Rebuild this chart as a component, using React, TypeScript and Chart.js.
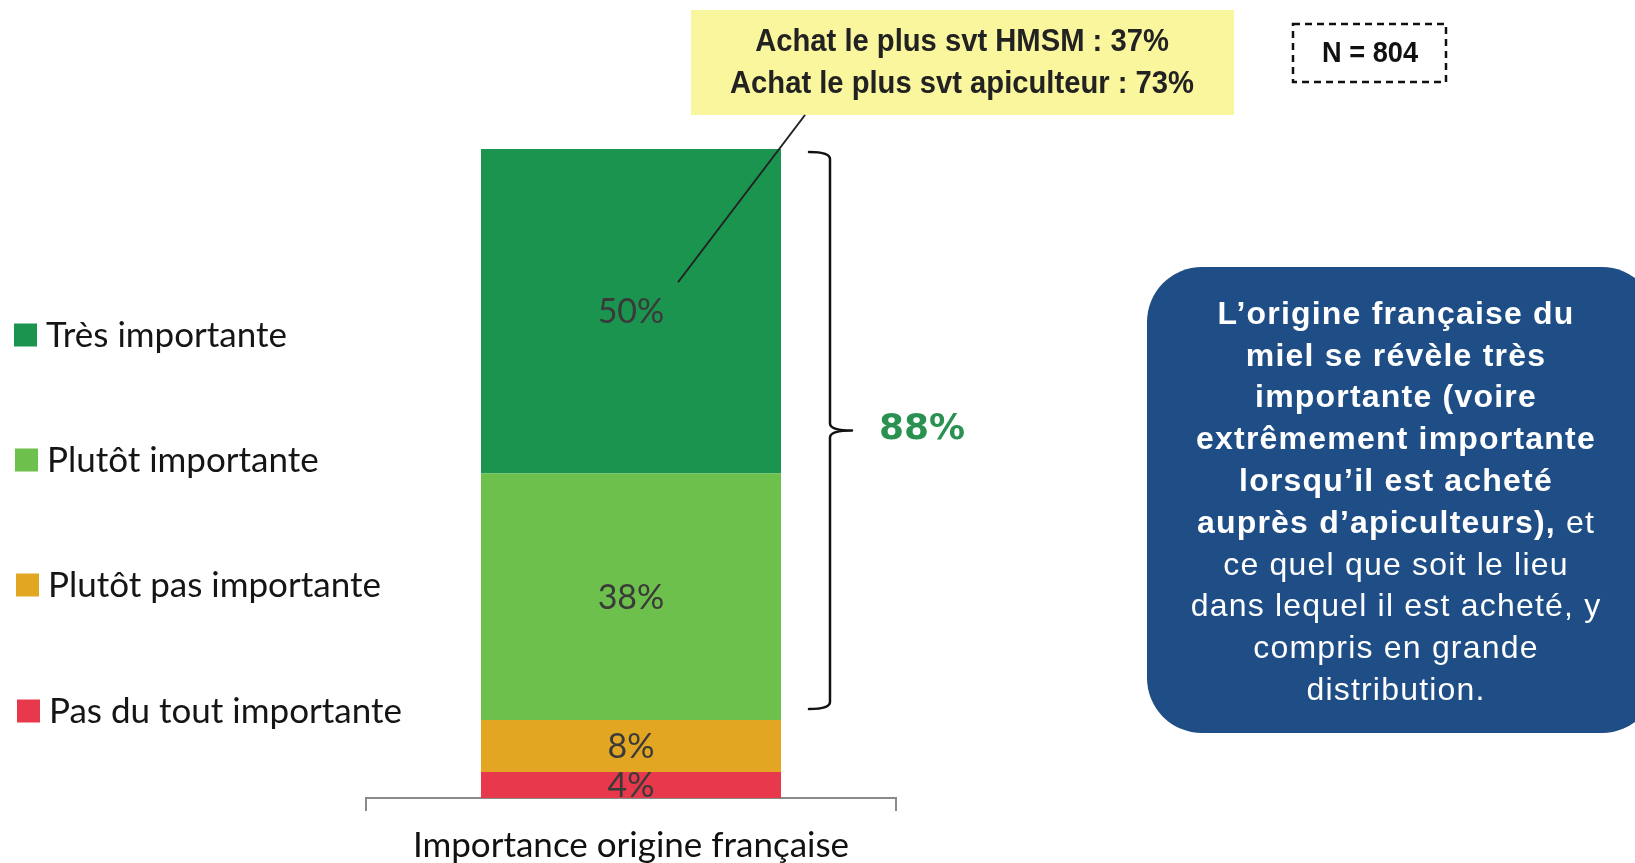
import React, { useEffect, useRef } from "react";
import { Chart, registerables } from "chart.js";

Chart.register(...registerables);

// ---- data ----
const categories = ["Importance origine française"];
const seriesNames = [
  "Pas du tout importante",
  "Plutôt pas importante",
  "Plutôt importante",
  "Très importante",
];
const pasDuToutImportante = [4];
const plutotPasImportante = [8];
const plutotImportante = [38];
const tresImportante = [50];
const seriesColors = ["#e8384c", "#e2a622", "#6cc04b", "#1b9450"];
const importantTotalLabel = "88%";
const sampleLabel = "N = 804";
const calloutLines = ["Achat le plus svt HMSM : 37%", "Achat le plus svt apiculteur : 73%"];
// [bold part, regular part]
const noteLines: [string, string][] = [
  ["L’origine française du", ""],
  ["miel se révèle très", ""],
  ["importante (voire", ""],
  ["extrêmement importante", ""],
  ["lorsqu’il est acheté", ""],
  ["auprès d’apiculteurs),", " et"],
  ["", "ce quel que soit le lieu"],
  ["", "dans lequel il est acheté, y"],
  ["", "compris en grande"],
  ["", "distribution."],
];

const LABEL_FONT = "Lato, 'Open Sans', sans-serif";
const SANS = "'Liberation Sans', Arial, sans-serif";

const overlayPlugin = {
  id: "overlay",
  afterDatasetsDraw(chart: any) {
    const ctx = chart.ctx as CanvasRenderingContext2D;
    ctx.save();
    ctx.fillStyle = "#3a3a3a";
    ctx.font = `34px ${LABEL_FONT}`;
    ctx.textAlign = "center";
    ctx.textBaseline = "middle";
    chart.data.datasets.forEach((ds: any, i: number) => {
      const meta = chart.getDatasetMeta(i);
      meta.data.forEach((bar: any, j: number) => {
        const p = bar.getProps(["x", "y", "base"], true);
        ctx.fillText(`${ds.data[j]}%`, p.x, (p.y + p.base) / 2 + 1);
      });
    });
    ctx.restore();
  },
  afterDraw(chart: any) {
    const ctx = chart.ctx as CanvasRenderingContext2D;
    const yScale = chart.scales.y;
    const topMeta = chart.getDatasetMeta(3);
    const topBar = topMeta.data[0].getProps(["x", "y", "base", "width"], true);
    const barRight = topBar.x + topBar.width / 2;

    // ---- legend (top to bottom: reverse of stacking order) ----
    ctx.save();
    const legendY = [335, 460, 585, 711];
    ctx.font = `35px ${LABEL_FONT}`;
    ctx.textBaseline = "middle";
    ctx.textAlign = "left";
    for (let k = 0; k < 4; k++) {
      const idx = 3 - k;
      const ds = chart.data.datasets[idx];
      ctx.fillStyle = ds.backgroundColor;
      ctx.fillRect(14 + k, legendY[k] - 11.5, 23, 23);
      ctx.fillStyle = "#151515";
      ctx.fillText(ds.label, 46 + k, legendY[k] + 1);
    }
    ctx.restore();

    // ---- bracket for 88% ----
    const yTop = yScale.getPixelForValue(100) + 3;
    const lowVal = pasDuToutImportante[0] + plutotPasImportante[0];
    const yBot = yScale.getPixelForValue(lowVal) - 11;
    const yMid = (yTop + yBot) / 2;
    const xs = barRight + 28;
    const xv = barRight + 49;
    const xt = barRight + 71;
    ctx.save();
    ctx.strokeStyle = "#111";
    ctx.lineWidth = 2.5;
    ctx.lineCap = "round";
    ctx.beginPath();
    ctx.moveTo(xs, yTop);
    ctx.quadraticCurveTo(xv, yTop, xv, yTop + 7);
    ctx.lineTo(xv, yMid - 7);
    ctx.quadraticCurveTo(xv, yMid, xt, yMid);
    ctx.moveTo(xt, yMid);
    ctx.quadraticCurveTo(xv, yMid, xv, yMid + 7);
    ctx.lineTo(xv, yBot - 7);
    ctx.quadraticCurveTo(xv, yBot, xs, yBot);
    ctx.stroke();
    ctx.fillStyle = "#2a9150";
    ctx.font = `bold 36px 'DejaVu Sans', sans-serif`;
    ctx.textAlign = "center";
    ctx.textBaseline = "middle";
    ctx.fillText(importantTotalLabel, barRight + 141, yMid - 1);
    ctx.restore();

    // ---- yellow callout ----
    ctx.save();
    ctx.fillStyle = "#f9f69d";
    ctx.fillRect(691, 10, 543, 105);
    ctx.fillStyle = "#222";
    ctx.font = `bold 32px ${SANS}`;
    ctx.textAlign = "center";
    ctx.textBaseline = "middle";
    const w2 = ctx.measureText(calloutLines[1]).width;
    const sx = 464 / w2;
    const cyLines = [42, 84];
    calloutLines.forEach((t, i) => {
      ctx.save();
      ctx.translate(962, cyLines[i]);
      ctx.scale(sx, 1);
      ctx.fillText(t, 0, 0);
      ctx.restore();
    });
    // leader line to the 50% segment
    const labelY = (topBar.y + topBar.base) / 2;
    ctx.strokeStyle = "#222";
    ctx.lineWidth = 2;
    ctx.beginPath();
    ctx.moveTo(805, 115);
    ctx.lineTo(topBar.x + 47, labelY - 29);
    ctx.stroke();
    ctx.restore();

    // ---- N box ----
    ctx.save();
    ctx.strokeStyle = "#111";
    ctx.lineWidth = 2.5;
    ctx.setLineDash([7, 5]);
    ctx.strokeRect(1293, 24, 153, 58);
    ctx.setLineDash([]);
    ctx.fillStyle = "#111";
    ctx.font = `bold 30px ${SANS}`;
    ctx.textAlign = "center";
    ctx.textBaseline = "middle";
    const wn = ctx.measureText(sampleLabel).width;
    ctx.translate(1370, 54);
    ctx.scale(96 / wn, 1);
    ctx.fillText(sampleLabel, 0, 0);
    ctx.restore();

    // ---- blue note box ----
    ctx.save();
    ctx.fillStyle = "#1f4e86";
    ctx.beginPath();
    (ctx as any).roundRect(1147, 267, 510, 466, 55);
    ctx.fill();
    ctx.fillStyle = "#ffffff";
    ctx.textBaseline = "middle";
    ctx.textAlign = "left";
    (ctx as any).letterSpacing = "1.2px";
    const cx = 1396;
    noteLines.forEach(([b, r], i) => {
      const y = 315 + i * 41.8;
      ctx.font = `bold 32px ${SANS}`;
      const wb = b ? ctx.measureText(b).width : 0;
      ctx.font = `32px ${SANS}`;
      const wr = r ? ctx.measureText(r).width : 0;
      let x = cx - (wb + wr) / 2;
      if (b) {
        ctx.font = `bold 32px ${SANS}`;
        ctx.fillText(b, x, y);
        x += wb;
      }
      if (r) {
        ctx.font = `32px ${SANS}`;
        ctx.fillText(r, x, y);
      }
    });
    ctx.restore();
  },
};

export default function App() {
  const canvasRef = useRef<HTMLCanvasElement | null>(null);

  useEffect(() => {
    if (!canvasRef.current) return;
    const seriesData = [pasDuToutImportante, plutotPasImportante, plutotImportante, tresImportante];
    const chart = new Chart(canvasRef.current, {
      type: "bar",
      data: {
        labels: categories,
        datasets: seriesData.map((d, i) => ({
          label: seriesNames[i],
          data: d,
          backgroundColor: seriesColors[i],
          borderWidth: 0,
          categoryPercentage: 1,
          barPercentage: 0.566,
        })),
      },
      options: {
        animation: false,
        responsive: true,
        maintainAspectRatio: false,
        layout: { padding: { left: 366, right: 739, top: 149, bottom: 0 } },
        plugins: {
          legend: { display: false },
          tooltip: { enabled: false },
        },
        scales: {
          x: {
            stacked: true,
            afterFit: (scale: any) => {
              scale.height = 65;
            },
            grid: {
              display: true,
              drawOnChartArea: false,
              drawTicks: true,
              tickLength: 13,
              color: "#8a8a8e",
              lineWidth: 2,
            },
            border: { display: true, color: "#8a8a8e", width: 2 },
            ticks: {
              color: "#111",
              padding: 14,
              font: { family: LABEL_FONT, size: 35 },
            },
          },
          y: {
            stacked: true,
            display: false,
            min: 0,
            max: 100,
          },
        },
      },
      plugins: [overlayPlugin],
    });
    return () => chart.destroy();
  }, []);

  return (
    <div
      style={{
        position: "fixed",
        left: 0,
        top: 0,
        width: "1635px",
        height: "863px",
        background: "#ffffff",
      }}
    >
      <canvas ref={canvasRef} />
    </div>
  );
}
